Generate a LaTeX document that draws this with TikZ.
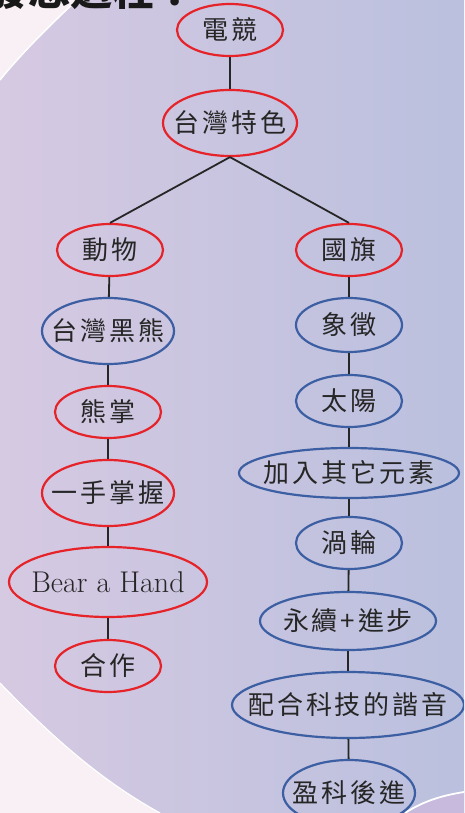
\documentclass[tikz,border=0pt]{standalone}
\usepackage{fontspec}
\usetikzlibrary{shapes.geometric}
\newfontfamily\cjk{Noto Sans CJK TC}[LetterSpace=11]
\newfontfamily\cjktitle{Noto Sans CJK TC}
\definecolor{ovred}{RGB}{230,35,40}
\definecolor{ovblue}{RGB}{60,94,162}
\definecolor{bgleft}{RGB}{214,201,226}
\definecolor{bgright}{RGB}{186,192,222}
\definecolor{paleW}{RGB}{248,240,244}
\definecolor{swoosh}{RGB}{200,186,220}
\begin{document}
\begin{tikzpicture}[x=1pt,y=-1pt,
  ov/.style={ellipse, line width=2.2pt, inner sep=0pt, fill=none},
  rov/.style={ov, draw=ovred},
  bov/.style={ov, draw=ovblue},
  txt/.style={font=\cjk\fontsize{26}{29}\selectfont, text=black!85, inner sep=0pt},
  lat/.style={font=\fontsize{30}{34}\selectfont, text=black!85, inner sep=0pt},
  link/.style={line width=1.8pt, draw=black!85}
]
\clip (0,0) rectangle (464,813);
\useasboundingbox (0,0) rectangle (464,813);
% background
\shade[left color=bgleft, right color=bgright] (0,0) rectangle (464,813);
\fill[paleW] (0,0) -- (77,0) .. controls (50,25) and (20,55) .. (0,80) -- cycle;
\draw[white, line width=1.5pt] (77,0) .. controls (50,25) and (20,55) .. (0,80);
\fill[paleW] (0,683) .. controls (50,735) and (100,780) .. (160,813) -- (0,813) -- cycle;
\draw[white, line width=1.2pt] (0,683) .. controls (50,735) and (100,780) .. (160,813);
\fill[swoosh] (405,813) .. controls (425,800) and (445,795) .. (464,792) -- (464,813) -- cycle;
\draw[white, line width=1.8pt] (405,813) .. controls (425,800) and (445,795) .. (464,792);
% cropped title
\node[anchor=base west, inner sep=0pt, font=\cjktitle\bfseries\fontsize{42}{46}\selectfont, text=black!90] (title) at (-14,6) {發想過程？};

% nodes
\node[rov, minimum width=106pt, minimum height=52pt, label={[txt]center:電競}] (dj) at (230,30) {};
\node[rov, minimum width=134pt, minimum height=66pt, label={[txt]center:台灣特色}] (tw) at (230,123) {};
\node[rov, minimum width=106pt, minimum height=52pt, label={[txt]center:動物}] (dw) at (110,250) {};
\node[rov, minimum width=106pt, minimum height=52pt, label={[txt]center:國旗}] (gq) at (349,250) {};
\node[bov, minimum width=132pt, minimum height=66pt, label={[txt]center:台灣黑熊}] (hx) at (108,331) {};
\node[bov, minimum width=106pt, minimum height=54pt, label={[txt]center:象徵}] (xz) at (349,325) {};
\node[rov, minimum width=106pt, minimum height=52pt, label={[txt]center:熊掌}] (xzh) at (108,412) {};
\node[bov, minimum width=106pt, minimum height=52pt, label={[txt]center:太陽}] (ty) at (349,401) {};
\node[rov, minimum width=132pt, minimum height=66pt, label={[txt]center:一手掌握}] (ys) at (108,493) {};
\node[bov, minimum width=220pt, minimum height=50pt, label={[txt]center:加入其它元素}] (jr) at (349,473) {};
\node[bov, minimum width=106pt, minimum height=52pt, label={[txt]center:渦輪}] (wl) at (349,543) {};
\node[rov, minimum width=198pt, minimum height=70pt, label={[lat]center:Bear a Hand}] (bh) at (108,582) {};
\node[rov, minimum width=106pt, minimum height=52pt, label={[txt]center:合作}] (hz) at (108,666) {};
\node[bov, minimum width=176pt, minimum height=58pt, label={[txt]center:永續+進步}] (yx) at (348,621) {};
\node[bov, minimum width=232pt, minimum height=66pt, label={[txt]center:配合科技的諧音}] (ph) at (348,705) {};
\node[bov, minimum width=132pt, minimum height=66pt, label={[txt]center:盈科後進}] (yk) at (349,793) {};

% connectors
\draw[link] (dj) -- (tw);
\draw[link] (tw.south) -- (dw.north);
\draw[link] (tw.south) -- (gq.north);
\draw[link] (dw) -- (hx);
\draw[link] (hx) -- (xzh);
\draw[link] (xzh) -- (ys);
\draw[link] (ys) -- (bh);
\draw[link] (bh) -- (hz);
\draw[link] (gq) -- (xz);
\draw[link] (xz) -- (ty);
\draw[link] (ty) -- (jr);
\draw[link] (jr) -- (wl);
\draw[link] (wl) -- (yx);
\draw[link] (yx) -- (ph);
\draw[link] (ph) -- (yk);
\end{tikzpicture}
\end{document}
